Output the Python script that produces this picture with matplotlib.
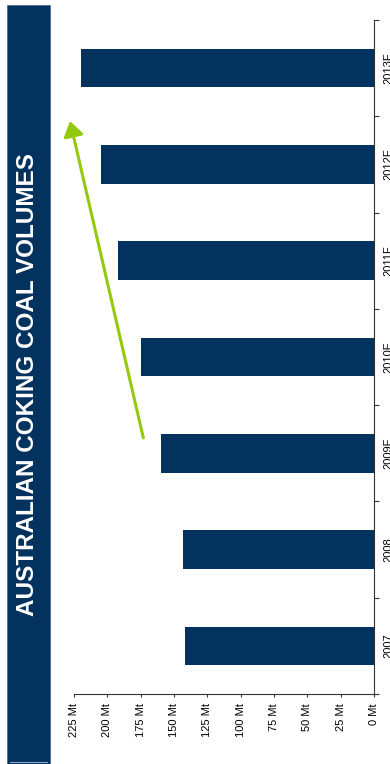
import matplotlib.pyplot as plt
import numpy as np
from matplotlib.patches import Rectangle

plt.rcParams['font.family'] = ['Liberation Sans', 'DejaVu Sans']

# coking coal volumes, million tonnes
years = ['2007', '2008', '2009F', '2010F', '2011F', '2012F', '2013F']
volumes = [142, 143, 160, 175, 192, 205, 220]
mt_ticks = [0, 25, 50, 75, 100, 125, 150, 175, 200, 225]

# growth arrow, from the 2009F level up past 2013F
arrow_start = (173, 2.16)
arrow_end = (228, 5.45)

navy = '#03325F'
green = '#93C90E'

fig = plt.figure(figsize=(3.9, 7.64), dpi=100)

# title panel down the left side
fig.patches.append(Rectangle((7 / 390, 0), 43 / 390, 759 / 764, transform=fig.transFigure,
                             facecolor=navy, edgecolor='#4d6d90', linewidth=0.6))
fig.add_artist(plt.Line2D([10 / 390, 47 / 390], [2 / 764, 2 / 764], transform=fig.transFigure,
                          color='#8fa6c4', linewidth=0.8))
fig.text(28 / 390, 1 - 385 / 764, 'AUSTRALIAN COKING COAL VOLUMES', rotation=90,
         color='white', fontsize=17.5, fontweight='bold', ha='center', va='center')

ax = fig.add_axes([74 / 390, 70 / 764, 300 / 390, 674 / 764])
pos = np.arange(len(years))
ax.barh(pos, volumes, height=0.4, color=navy)

ax.set_xlim(225, 0)
ax.set_ylim(-0.5, len(years) - 0.5)

ax.set_xticks(mt_ticks)
ax.set_xticklabels([f'{v} Mt' for v in mt_ticks], rotation=90, fontsize=8)
ax.tick_params(axis='x', direction='out', length=2.2, width=0.8, pad=4.5, color='#333333')

ax.yaxis.tick_right()
ax.set_yticks(np.arange(-0.5, len(years), 1))
ax.set_yticklabels([])
ax.set_yticks(pos, minor=True)
ax.set_yticklabels(years, minor=True, rotation=90, va='center', fontsize=8)
ax.tick_params(axis='y', which='major', direction='out', length=3.5, width=0.8, color='#333333')
ax.tick_params(axis='y', which='minor', length=0, pad=6.5)

for side in ['top', 'left']:
    ax.spines[side].set_visible(False)
for side in ['bottom', 'right']:
    ax.spines[side].set_color('#333333')
    ax.spines[side].set_linewidth(0.8)

ax.annotate('', xy=arrow_end, xytext=arrow_start, annotation_clip=False,
            arrowprops=dict(arrowstyle='-|>,head_length=0.45,head_width=0.3', color=green,
                            lw=2.2, mutation_scale=20, shrinkA=0, shrinkB=0))

fig.savefig('out.png', dpi=100)
